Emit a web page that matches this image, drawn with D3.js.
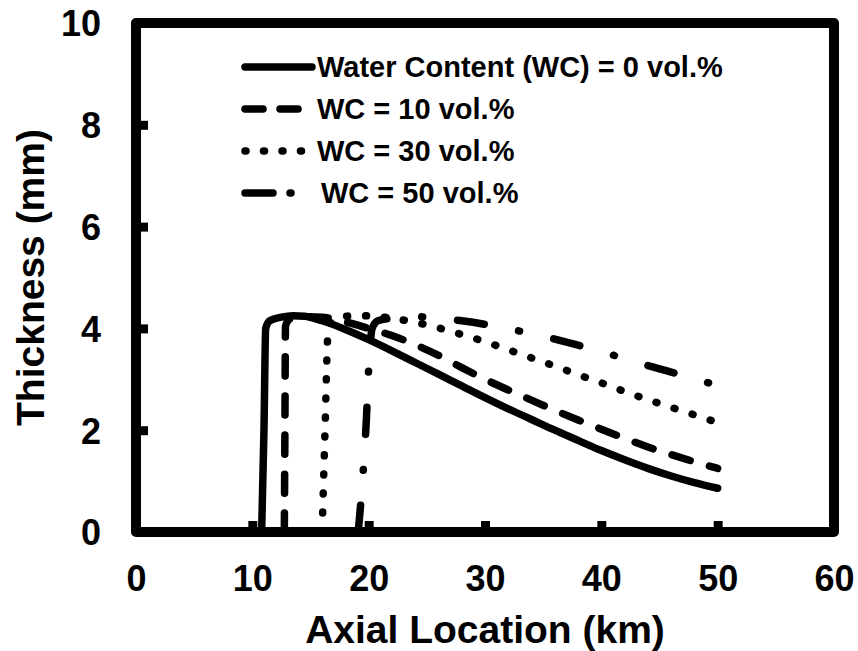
<!DOCTYPE html>
<html>
<head>
<meta charset="utf-8">
<script src="https://cdn.jsdelivr.net/npm/d3@7/dist/d3.min.js"></script>
<style>
  html, body { margin: 0; padding: 0; background: #fff; }
  svg { display: block; }
  text { font-family: "Liberation Sans", Arial, sans-serif; font-weight: bold; fill: #000; }
</style>
</head>
<body>
<svg id="chart" width="858" height="651"></svg>
<script>
// ---- data ----
const xTicks = [0, 10, 20, 30, 40, 50, 60];
const yTicks = [0, 2, 4, 6, 8, 10];
const seriesNames = ["Water Content (WC) = 0 vol.%", "WC = 10 vol.%", "WC = 30 vol.%", "WC = 50 vol.%"];

const wc0 = [[10.8,0],[11.0,2.0],[11.15,4.0],[11.5,4.15],[12.5,4.22],[13.5,4.25],[14.5,4.24],[16,4.15],[18,3.98],[20,3.78],[22,3.56],[24,3.33],[26,3.1],[28,2.87],[30,2.64],[32,2.42],[34,2.21],[36,2.0],[38,1.8],[40,1.6],[42,1.42],[44,1.25],[46,1.1],[48,0.97],[50,0.86]];
const wc10 = [[12.75,0],[12.8,2.0],[12.85,4.05],[13.2,4.18],[14.5,4.23],[16,4.22],[18,4.13],[20,4.0],[22,3.86],[24,3.68],[26,3.47],[28,3.23],[30,3.0],[32,2.79],[34,2.59],[36,2.39],[38,2.2],[40,2.02],[42,1.84],[44,1.67],[46,1.52],[48,1.38],[50,1.25]];
const wc30 = [[16.0,0],[16.25,2.0],[16.5,3.9],[16.8,4.15],[17.5,4.22],[19,4.25],[20.5,4.24],[22,4.2],[24,4.12],[26,4.01],[28,3.88],[30,3.74],[32,3.58],[34,3.42],[36,3.26],[38,3.09],[40,2.93],[42,2.76],[44,2.6],[46,2.45],[48,2.3],[50,2.15]];
const wc50 = [[19.1,0],[19.5,1.1],[19.8,2.2],[20.0,3.2],[20.3,4.0],[20.8,4.15],[22,4.2],[24,4.23],[26,4.2],[28,4.15],[30,4.08],[32,3.99],[34,3.9],[36,3.79],[38,3.67],[40,3.54],[42,3.41],[44,3.27],[46,3.14],[48,3.01],[50,2.88]];

const seriesData = [wc0, wc10, wc30, wc50];
const dashes = [null, "19,20", "1,18", "27,35,1,35"];
const legendDashes = [null, "18,17", "1,17.5", "28,17,1,30"];

// ---- layout ----
const svg = d3.select("#chart");
const L = 136, R = 834, T = 23, B = 532;
const x = d3.scaleLinear().domain([0, 60]).range([L, R]);
const y = d3.scaleLinear().domain([0, 10]).range([B, T]);

// frame
svg.append("rect")
  .attr("x", L).attr("y", T).attr("width", R - L).attr("height", B - T)
  .attr("fill", "none").attr("stroke", "#000").attr("stroke-width", 10)
  .attr("stroke-linejoin", "round");

// axes (inward ticks)
const xAxis = d3.axisBottom(x).tickValues(xTicks).tickSize(-11).tickPadding(0).tickFormat(d3.format("d"));
const gx = svg.append("g").attr("transform", `translate(0,${B})`).call(xAxis);
gx.select(".domain").remove();
gx.selectAll(".tick line").attr("stroke", "#000").attr("stroke-width", 9);
gx.selectAll(".tick text").attr("y", 59).attr("dy", 0).style("font-size", "36px").attr("fill", "#000");

const yAxis = d3.axisLeft(y).tickValues(yTicks).tickSize(-12).tickFormat(d3.format("d"));
const gy = svg.append("g").attr("transform", `translate(${L},0)`).call(yAxis);
gy.select(".domain").remove();
gy.selectAll(".tick line").attr("stroke", "#000").attr("stroke-width", 9);
gy.selectAll(".tick text").attr("x", -35).attr("dy", "0.36em").style("font-size", "36px").attr("fill", "#000");

// curves
const line = d3.line().x(d => x(d[0])).y(d => y(d[1])).curve(d3.curveMonotoneX);
seriesData.forEach((s, i) => {
  svg.append("path").datum(s)
    .attr("d", line)
    .attr("fill", "none").attr("stroke", "#000").attr("stroke-width", 7.5)
    .attr("stroke-linecap", "round").attr("stroke-linejoin", "round")
    .attr("stroke-dasharray", dashes[i]);
});

// legend
const legY = [67, 109, 151, 193];
const legX0 = 245, legX1 = 312, legT = 317;
seriesNames.forEach((name, i) => {
  svg.append("line")
    .attr("x1", legX0).attr("x2", i === 3 ? 298 : (i === 2 ? 302 : legX1))
    .attr("y1", legY[i]).attr("y2", legY[i])
    .attr("stroke", "#000").attr("stroke-width", 7.5).attr("stroke-linecap", "round")
    .attr("stroke-dasharray", legendDashes[i]);
  svg.append("text").attr("x", legT + (i === 3 ? 4 : 0)).attr("y", legY[i]).attr("dy", "0.36em")
    .style("font-size", "29px").text(name);
});

// axis titles
svg.append("text").attr("x", (L + R) / 2).attr("y", 643).attr("text-anchor", "middle")
  .style("font-size", "39px").text("Axial Location (km)");
svg.append("text").attr("transform", `translate(44,${(T + B) / 2}) rotate(-90)`).attr("text-anchor", "middle")
  .style("font-size", "39px").text("Thickness (mm)");
</script>
</body>
</html>
